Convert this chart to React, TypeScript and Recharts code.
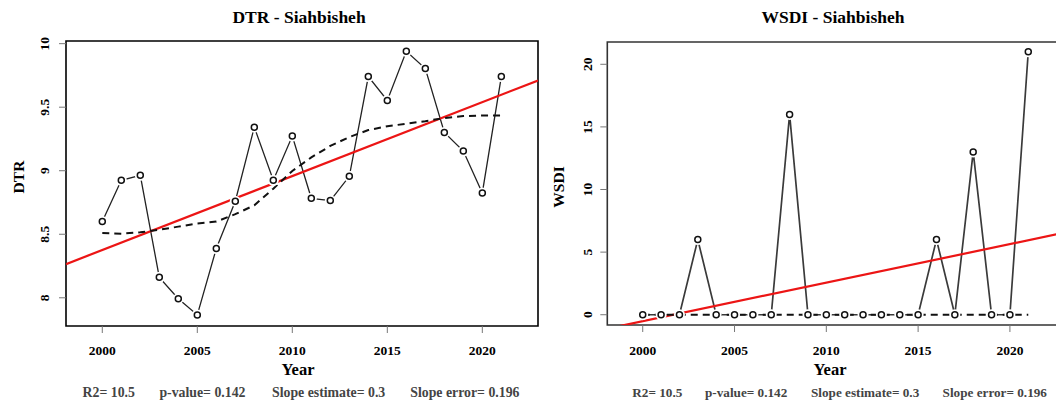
import React from 'react';
import { ComposedChart, Line, XAxis, YAxis, ReferenceArea } from 'recharts';

const SERIF = "'Liberation Serif', 'Times New Roman', serif";

const years = [2000, 2001, 2002, 2003, 2004, 2005, 2006, 2007, 2008, 2009, 2010, 2011, 2012, 2013, 2014, 2015, 2016, 2017, 2018, 2019, 2020, 2021];
const yearTicks = [2000, 2005, 2010, 2015, 2020];

const dtrObserved = [8.6, 8.925, 8.964, 8.161, 7.993, 7.865, 8.388, 8.76, 9.343, 8.925, 9.273, 8.783, 8.765, 8.956, 9.741, 9.553, 9.94, 9.804, 9.301, 9.155, 8.825, 9.741];
const dtrSmooth = [8.51, 8.505, 8.515, 8.535, 8.56, 8.585, 8.6, 8.658, 8.728, 8.859, 8.998, 9.105, 9.195, 9.265, 9.32, 9.35, 9.37, 9.39, 9.415, 9.43, 9.435, 9.435];
const dtrTrendX = [1998.09, 2022.93];
const dtrTrendY = [8.265, 9.71];
const dtrTicks = [8, 8.5, 9, 9.5, 10];

const wsdiObserved = [0, 0, 0, 6, 0, 0, 0, 0, 16, 0, 0, 0, 0, 0, 0, 0, 6, 0, 13, 0, 0, 21];
const wsdiSmooth = [0, 0, 0, 0, 0, 0, 0, 0, 0, 0, 0, 0, 0, 0, 0, 0, 0, 0, 0, 0, 0, 0];
const wsdiTrendX = [1998.07, 2022.93];
const wsdiTrendY = [-1.11, 6.54];
const wsdiTicks = [0, 5, 10, 15, 20];

const statLabels = ['R2= 10.5', 'p-value= 0.142', 'Slope estimate= 0.3', 'Slope error= 0.196'];

const toPoints = (xs: number[], ys: number[]) => xs.map((x, i) => ({ x, y: ys[i] }));

type PanelProps = {
  left: number;
  width: number;
  margin: { top: number; right: number; bottom: number; left: number };
  yAxisWidth: number;
  xDomain: [number, number];
  yDomain: [number, number];
  yTicks: number[];
  observed: number[];
  smooth: number[];
  trendX: number[];
  trendY: number[];
  yTickCx: number;
  boxColor: string;
  lineColor: string;
  lineWidth: number;
};

const Panel = (p: PanelProps) => {
  const obs = toPoints(years, p.observed);
  const sm = toPoints(years, p.smooth);
  const tr = toPoints(p.trendX, p.trendY);
  const XTick = (props: any) => (
    <text x={props.x} y={355} textAnchor="middle" fontFamily={SERIF} fontWeight="bold" fontSize={13.5} fill="#000">
      {props.payload.value}
    </text>
  );
  const YTick = (props: any) => (
    <text
      x={p.yTickCx}
      y={props.y}
      dy="0.36em"
      transform={`rotate(-90 ${p.yTickCx} ${props.y})`}
      textAnchor="middle"
      fontFamily={SERIF}
      fontWeight="bold"
      fontSize={13.5}
      fill="#000"
    >
      {props.payload.value}
    </text>
  );
  return (
    <div style={{ position: 'absolute', left: p.left, top: 0 }}>
      <ComposedChart width={p.width} height={402} margin={p.margin}>
        <XAxis
          type="number"
          dataKey="x"
          domain={p.xDomain}
          ticks={yearTicks}
          allowDataOverflow
          height={30}
          axisLine={false}
          tickLine={{ stroke: '#777', strokeWidth: 1 }}
          tickSize={7}
          tick={XTick}
          interval={0}
        />
        <YAxis
          type="number"
          dataKey="y"
          domain={p.yDomain}
          ticks={p.yTicks}
          allowDataOverflow
          width={p.yAxisWidth}
          axisLine={false}
          tickLine={{ stroke: '#777', strokeWidth: 1 }}
          tickSize={7}
          tick={YTick}
          interval={0}
        />
        <Line data={obs} dataKey="y" type="linear" stroke={p.lineColor} strokeWidth={p.lineWidth} dot={false} activeDot={false} isAnimationActive={false} />
        <Line data={obs} dataKey="y" type="linear" stroke="none" dot={{ r: 5.5, fill: '#fff', stroke: 'none', strokeWidth: 0 }} activeDot={false} isAnimationActive={false} />
        <Line data={obs} dataKey="y" type="linear" stroke="none" dot={{ r: 3, fill: '#fff', stroke: '#111', strokeWidth: 1.5 }} activeDot={false} isAnimationActive={false} />
        <Line data={tr} dataKey="y" type="linear" stroke="#ec1515" strokeWidth={2.2} dot={false} activeDot={false} isAnimationActive={false} />
        <Line data={sm} dataKey="y" type="linear" stroke="#111" strokeWidth={2} strokeDasharray="7 5" dot={false} activeDot={false} isAnimationActive={false} />
        <ReferenceArea x1={p.xDomain[0]} x2={p.xDomain[1]} y1={p.yDomain[0]} y2={p.yDomain[1]} fill="none" fillOpacity={0} stroke={p.boxColor} strokeWidth={1.6} ifOverflow="visible" />
      </ComposedChart>
    </div>
  );
};

const leftStatsX = [82.6, 159.4, 272, 410.3];
const rightStatsX = [632.3, 705, 811, 942.6];

export default function App() {
  return (
    <div style={{ position: 'absolute', left: 0, top: 0, width: 1056, height: 402, overflow: 'hidden', background: '#fff' }}>
      <Panel
        left={0}
        width={560}
        margin={{ top: 41, right: 22, bottom: 46, left: 0 }}
        yAxisWidth={66}
        xDomain={[1998.09, 2022.93]}
        yDomain={[7.778, 10.021]}
        yTicks={dtrTicks}
        observed={dtrObserved}
        smooth={dtrSmooth}
        trendX={dtrTrendX}
        trendY={dtrTrendY}
        yTickCx={44}
        boxColor="#000"
        lineColor="#222"
        lineWidth={1.3}
      />
      <Panel
        left={560}
        width={530}
        margin={{ top: 42, right: 26.3, bottom: 47, left: 0 }}
        yAxisWidth={47.3}
        xDomain={[1998.07, 2022.93]}
        yDomain={[-0.82, 21.78]}
        yTicks={wsdiTicks}
        observed={wsdiObserved}
        smooth={wsdiSmooth}
        trendX={wsdiTrendX}
        trendY={wsdiTrendY}
        yTickCx={27.5}
        boxColor="#333"
        lineColor="#3a3a3a"
        lineWidth={1.7}
      />
      <svg width={1056} height={402} style={{ position: 'absolute', left: 0, top: 0, pointerEvents: 'none' }}>
        <g fontFamily={SERIF} fontWeight="bold" fill="#000">
          <text x={299} y={23} textAnchor="middle" fontSize={17.5}>DTR - Siahbisheh</text>
          <text x={833} y={23} textAnchor="middle" fontSize={17.5}>WSDI - Siahbisheh</text>
          <text x={298} y={375} textAnchor="middle" fontSize={16.5}>Year</text>
          <text x={830} y={375} textAnchor="middle" fontSize={16.5}>Year</text>
          <text x={18} y={177} dy="0.36em" transform="rotate(-90 18 177)" textAnchor="middle" fontSize={15.5}>DTR</text>
          <text x={558} y={187} dy="0.36em" transform="rotate(-90 558 187)" textAnchor="middle" fontSize={15.5}>WSDI</text>
        </g>
        <g fontFamily={SERIF} fontWeight="bold" fill="#444">
          {statLabels.map((s, i) => (
            <text key={'l' + i} x={leftStatsX[i]} y={397} fontSize={13.8}>{s}</text>
          ))}
          {statLabels.map((s, i) => (
            <text key={'r' + i} x={rightStatsX[i]} y={397} fontSize={13.2}>{s}</text>
          ))}
        </g>
      </svg>
    </div>
  );
}
